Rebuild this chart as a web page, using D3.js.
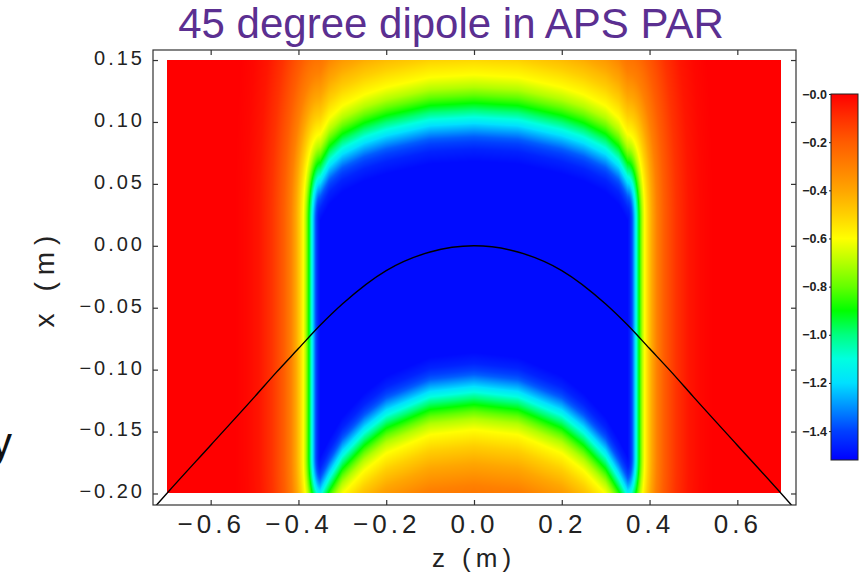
<!DOCTYPE html>
<html>
<head>
<meta charset="utf-8">
<script src="https://cdn.jsdelivr.net/npm/d3@7"></script>
<style>
  html, body { margin: 0; padding: 0; background: #ffffff; }
  svg { display: block; }
  text { font-family: "Liberation Sans", Arial, sans-serif; }
</style>
</head>
<body>
<svg id="chart" width="859" height="576"></svg>
<script>
// ---- axis extents and ticks ----
const zLimits = [-0.7314, 0.7337];          // longitudinal axis z (m)
const xLimits = [-0.2093, 0.1581];          // transverse axis x (m)
const mapZ = [-0.7, 0.7];                   // extent of the field map
const mapX = [-0.2, 0.15];
const zTicks = [-0.6, -0.4, -0.2, 0.0, 0.2, 0.4, 0.6];
const xTicks = [0.15, 0.10, 0.05, 0.00, -0.05, -0.10, -0.15, -0.20];
const cbTicks = [0.0, -0.2, -0.4, -0.6, -0.8, -1.0, -1.2, -1.4];
const cbRange = [0.0, -1.52];

// ---- colour table (field value -> colour) ----
const colorValues = [0, -0.1, -0.2, -0.3, -0.4, -0.5, -0.6, -0.7, -0.8, -0.9, -1.0, -1.1, -1.2, -1.3, -1.4, -1.52];
const colorHexes = ["#ff0000", "#ff3000", "#ff5c00", "#ff8000", "#ffa500", "#ffd000", "#ffff00",
                    "#b4ff00", "#64ff00", "#00ff00", "#00ff80", "#00ffe0", "#00e0ff", "#0090ff", "#0040ff", "#0000ff"];

// ---- magnet description ----
const peakField = -1.5;
const poleHalfLength = 0.35;
// pole edges (where the field is still at its peak) versus |z|
const edgeZ = [0, 0.1, 0.2, 0.25, 0.3, 0.33, 0.35];
const edgeTop = [0.068, 0.066, 0.058, 0.052, 0.043, 0.033, 0.020];
const edgeBot = [-0.086, -0.090, -0.105, -0.119, -0.138, -0.156, -0.170];
// fringe fall-off: fraction of the peak field vs distance outside the pole
const fringeDist = [0, 0.01, 0.02, 0.03, 0.04, 0.05, 0.06, 0.07, 0.085, 0.10, 0.12, 0.15, 0.20, 0.25, 0.30, 0.35];
const fringeFrac = [1.0, 0.97, 0.91, 0.81, 0.68, 0.57, 0.47, 0.40, 0.33, 0.27, 0.20, 0.135, 0.07, 0.03, 0.01, 0.0];
const fringeStretchZ = 1.8;   // fall-off along z is this much faster than along x
const fringeStretchBelow = 1.12; // and below the pole slightly faster than above

// ---- reference trajectory through the bend ----
const trajZ = [-0.74, -0.7, -0.6, -0.5, -0.45, -0.4, -0.35, -0.3, -0.2, -0.1, 0.0, 0.1, 0.2, 0.3, 0.35, 0.4, 0.45, 0.5, 0.6, 0.7, 0.74];
const trajX = [-0.216, -0.200, -0.161, -0.122, -0.102, -0.083, -0.064, -0.047, -0.020, -0.005, 0.0,
               -0.005, -0.020, -0.047, -0.064, -0.083, -0.102, -0.122, -0.161, -0.200, -0.216];

// ---- layout ----
const box = { left: 153, right: 796, top: 50, bottom: 505 };
const svg = d3.select("#chart");

const z = d3.scaleLinear().domain(zLimits).range([box.left, box.right]);
const x = d3.scaleLinear().domain(xLimits).range([box.bottom, box.top]);
const color = d3.scaleLinear().domain(colorValues).range(colorHexes).interpolate(d3.interpolateRgb).clamp(true);

const edgeTopAt = d3.scaleLinear().domain(edgeZ).range(edgeTop).clamp(true);
const edgeBotAt = d3.scaleLinear().domain(edgeZ).range(edgeBot).clamp(true);
const fringeAt = d3.scaleLinear().domain(fringeDist).range(fringeFrac).clamp(true);

function field(zv, xv) {
  const az = Math.abs(zv);
  const zc = Math.min(az, poleHalfLength);
  const dz = Math.max(0, az - poleHalfLength) * fringeStretchZ;
  const top = edgeTopAt(zc), bot = edgeBotAt(zc);
  const dx = xv > top ? xv - top : (xv < bot ? (bot - xv) * fringeStretchBelow : 0);
  return peakField * fringeAt(Math.hypot(dz, dx));
}

// ---- field map rendered into an image ----
const px0 = Math.round(z(mapZ[0])), px1 = Math.round(z(mapZ[1]));
const py0 = Math.round(x(mapX[1])), py1 = Math.round(x(mapX[0]));
const W = px1 - px0, H = py1 - py0;
const canvas = document.createElement("canvas");
canvas.width = W; canvas.height = H;
const ctx = canvas.getContext("2d");
const img = ctx.createImageData(W, H);
for (let j = 0; j < H; j++) {
  const xv = x.invert(py0 + j + 0.5);
  for (let i = 0; i < W; i++) {
    const zv = z.invert(px0 + i + 0.5);
    const c = d3.rgb(color(field(zv, xv)));
    const k = (j * W + i) * 4;
    img.data[k] = c.r; img.data[k + 1] = c.g; img.data[k + 2] = c.b; img.data[k + 3] = 255;
  }
}
ctx.putImageData(img, 0, 0);
svg.append("image")
  .attr("x", px0).attr("y", py0).attr("width", W).attr("height", H)
  .attr("preserveAspectRatio", "none")
  .attr("href", canvas.toDataURL());

// ---- trajectory ----
svg.append("clipPath").attr("id", "plotClip")
  .append("rect").attr("x", box.left).attr("y", box.top)
  .attr("width", box.right - box.left).attr("height", box.bottom - box.top);
svg.append("path")
  .datum(d3.zip(trajZ, trajX))
  .attr("clip-path", "url(#plotClip)")
  .attr("fill", "none").attr("stroke", "#000").attr("stroke-width", 1.4)
  .attr("d", d3.line().x(d => z(d[0])).y(d => x(d[1])).curve(d3.curveMonotoneX));

// ---- frame and inward ticks ----
const axisColor = "#333";
svg.append("rect")
  .attr("x", box.left).attr("y", box.top)
  .attr("width", box.right - box.left).attr("height", box.bottom - box.top)
  .attr("fill", "none").attr("stroke", axisColor).attr("stroke-width", 1.2);

const tickLen = 5;
const gBottom = svg.append("g").attr("transform", `translate(0,${box.bottom})`)
  .call(d3.axisBottom(z).tickValues(zTicks).tickSizeInner(-tickLen).tickSizeOuter(0).tickPadding(10)
    .tickFormat(d => d3.format(".1f")(d).replace("-", "\u2212")));
const gTop = svg.append("g").attr("transform", `translate(0,${box.top})`)
  .call(d3.axisTop(z).tickValues(zTicks).tickSizeInner(-tickLen).tickSizeOuter(0).tickFormat(""));
const gLeft = svg.append("g").attr("transform", `translate(${box.left},0)`)
  .call(d3.axisLeft(x).tickValues(xTicks).tickSizeInner(-tickLen).tickSizeOuter(0).tickPadding(8)
    .tickFormat(d => d3.format(".2f")(d).replace("-", "\u2212")));
const gRight = svg.append("g").attr("transform", `translate(${box.right},0)`)
  .call(d3.axisRight(x).tickValues(xTicks).tickSizeInner(-tickLen).tickSizeOuter(0).tickFormat(""));

[gBottom, gTop, gLeft, gRight].forEach(g => {
  g.select(".domain").remove();
  g.selectAll(".tick line").attr("stroke", axisColor).attr("stroke-width", 1.2);
});
gBottom.selectAll(".tick text")
  .attr("font-size", 26).attr("letter-spacing", 4).attr("fill", "#222")
  .attr("font-family", "Liberation Sans, Arial, sans-serif").attr("dy", "0.71em");
gLeft.selectAll(".tick text")
  .attr("font-size", 20).attr("letter-spacing", 3).attr("fill", "#222")
  .attr("font-family", "Liberation Sans, Arial, sans-serif").attr("dy", "0.22em");

// axis titles
svg.append("text")
  .attr("x", 474).attr("y", 567).attr("text-anchor", "middle")
  .attr("font-size", 26).attr("letter-spacing", 5).attr("fill", "#222")
  .text("z (m)");
svg.append("text")
  .attr("transform", "translate(54,278) rotate(-90)").attr("text-anchor", "middle")
  .attr("font-size", 28).attr("letter-spacing", 7).attr("fill", "#222")
  .text("x (m)");

// ---- title ----
svg.append("text")
  .attr("x", 451).attr("y", 38).attr("text-anchor", "middle")
  .attr("font-size", 42).attr("fill", "#5b2f91")
  .text("45 degree dipole in APS PAR");

// stray glyph from the neighbouring slide text
svg.append("text")
  .attr("x", -9).attr("y", 457).attr("font-size", 42).attr("fill", "#111")
  .text("y");

// ---- colour bar ----
const cb = { left: 831, right: 858, top: 94, bottom: 460 };
const cbScale = d3.scaleLinear().domain(cbRange).range([cb.top, cb.bottom]);
const grad = svg.append("defs").append("linearGradient")
  .attr("id", "cbGrad").attr("x1", 0).attr("x2", 0).attr("y1", 0).attr("y2", 1);
colorValues.forEach((v, i) => {
  grad.append("stop")
    .attr("offset", (cbScale(v) - cb.top) / (cb.bottom - cb.top))
    .attr("stop-color", colorHexes[i]);
});
svg.append("rect")
  .attr("x", cb.left).attr("y", cb.top).attr("width", cb.right - cb.left).attr("height", cb.bottom - cb.top)
  .attr("fill", "url(#cbGrad)").attr("stroke", "#222").attr("stroke-width", 1);
const gCb = svg.append("g").attr("transform", `translate(${cb.left},0)`)
  .call(d3.axisLeft(cbScale).tickValues(cbTicks).tickSize(2).tickPadding(2)
    .tickFormat(d => "\u2212" + d3.format(".1f")(Math.abs(d))));
gCb.select(".domain").remove();
gCb.selectAll(".tick line").attr("stroke", "#222");
gCb.selectAll(".tick text").attr("font-size", 12.5).attr("fill", "#222").attr("font-weight", "bold")
  .attr("font-family", "Liberation Sans, Arial, sans-serif");
</script>
</body>
</html>
